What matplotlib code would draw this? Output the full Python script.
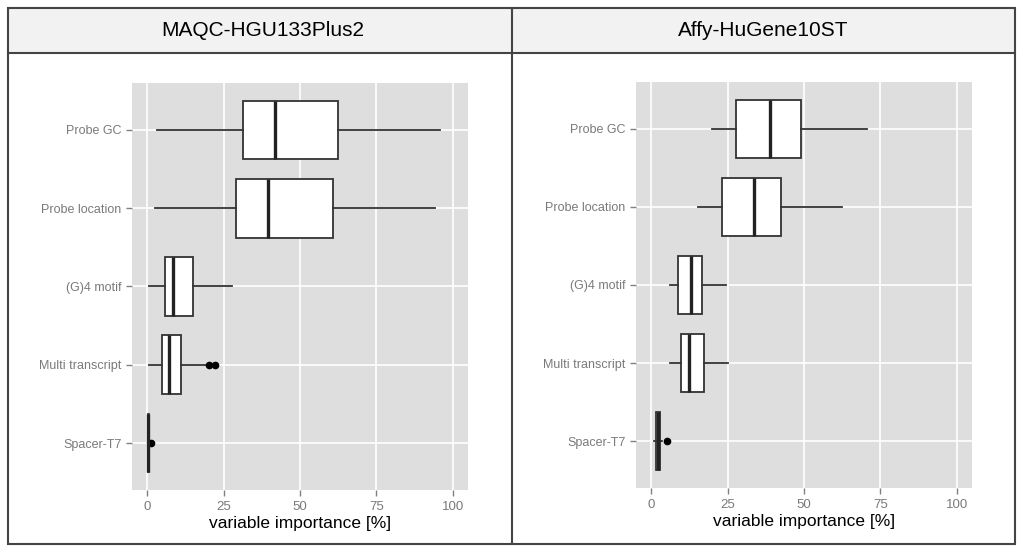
import matplotlib
matplotlib.use("Agg")
import matplotlib.pyplot as plt
from matplotlib.patches import Rectangle
from matplotlib.lines import Line2D

plt.rcParams["font.family"] = ["Liberation Sans", "DejaVu Sans"]

categories = ["Probe GC", "Probe location", "(G)4 motif", "Multi transcript", "Spacer-T7"]
panel_titles = ["MAQC-HGU133Plus2", "Affy-HuGene10ST"]

# box statistics per panel: whisker low, Q1, median, Q3, whisker high
maqc_whislo = [3.3, 2.4, 0.5, 0.5, 0.1]
maqc_q1 = [31.4, 28.9, 5.7, 4.7, 0.2]
maqc_med = [41.8, 39.5, 8.4, 7.0, 0.35]
maqc_q3 = [62.3, 60.9, 15.0, 11.0, 0.5]
maqc_whishi = [95.7, 94.1, 27.9, 19.9, 0.8]
maqc_fliers = [[], [], [], [20.3, 22.1], [1.3]]

affy_whislo = [19.8, 15.4, 6.2, 6.0, 1.0]
affy_q1 = [27.7, 23.2, 8.9, 9.6, 1.5]
affy_med = [39.0, 33.5, 12.9, 12.3, 2.2]
affy_q3 = [48.9, 42.5, 16.7, 17.1, 2.9]
affy_whishi = [70.5, 62.5, 24.5, 25.0, 3.5]
affy_fliers = [[], [], [], [], [5.1]]

x_ticks = [0, 25, 50, 75, 100]

W, H = 1024, 552
fig = plt.figure(figsize=(W / 100, H / 100), dpi=100)


def px_rect(x0, y0, x1, y1):
    return [x0 / W, 1 - y1 / H, (x1 - x0) / W, (y1 - y0) / H]


def make_stats(whislo, q1, med, q3, whishi, fliers):
    stats = []
    for i in range(len(categories)):
        stats.append({
            "whislo": whislo[i], "q1": q1[i], "med": med[i],
            "q3": q3[i], "whishi": whishi[i], "fliers": fliers[i],
        })
    return stats


def draw_panel(rect, stats):
    ax = fig.add_axes(rect)
    ax.set_facecolor("#dedede")
    ax.set_xlim(-5, 105)
    ax.set_ylim(0.4, 5.6)
    positions = list(range(len(categories), 0, -1))
    line = dict(color="#333333", linewidth=1.3)
    ax.bxp(
        stats, positions=positions, orientation="horizontal", widths=0.75,
        patch_artist=True, showcaps=False,
        boxprops=dict(facecolor="white", edgecolor="#333333", linewidth=1.3),
        medianprops=dict(color="#222222", linewidth=2.4),
        whiskerprops=line,
        flierprops=dict(marker="o", markerfacecolor="black", markeredgecolor="black",
                        markersize=4.5),
        zorder=3,
    )
    ax.set_yticks(positions)
    ax.set_yticklabels(categories)
    ax.set_xticks(x_ticks)
    ax.set_xticklabels([str(t) for t in x_ticks])
    ax.grid(True, color="white", linewidth=1.2, zorder=0)
    ax.set_axisbelow(True)
    for spine in ax.spines.values():
        spine.set_visible(False)
    ax.tick_params(colors="#808080", labelcolor="#7a7a7a", labelsize=9,
                   length=4, width=1)
    ax.tick_params(axis="x", labelsize=9.5, pad=4)
    ax.set_xlabel("variable importance [%]", fontsize=12.5, color="black", labelpad=2)
    return ax


draw_panel(px_rect(132, 83, 468, 490),
           make_stats(maqc_whislo, maqc_q1, maqc_med, maqc_q3, maqc_whishi, maqc_fliers))
draw_panel(px_rect(636, 82, 972, 488),
           make_stats(affy_whislo, affy_q1, affy_med, affy_q3, affy_whishi, affy_fliers))

# table-like frame around the two panels
frame_color = "#444444"
fig.patches.append(Rectangle((8 / W, 1 - 53 / H), (1015 - 8) / W, 45 / H,
                             transform=fig.transFigure, facecolor="#f2f2f2",
                             edgecolor="none", zorder=0))
fig.patches.append(Rectangle((8 / W, 1 - 544 / H), (1015 - 8) / W, (544 - 8) / H,
                             transform=fig.transFigure, facecolor="none",
                             edgecolor=frame_color, linewidth=1.5, zorder=5))
fig.lines.append(Line2D([8 / W, 1015 / W], [1 - 53 / H, 1 - 53 / H],
                        transform=fig.transFigure, color=frame_color, linewidth=1.5))
fig.lines.append(Line2D([512 / W, 512 / W], [1 - 8 / H, 1 - 544 / H],
                        transform=fig.transFigure, color=frame_color, linewidth=1.5))

fig.text(263 / W, 1 - 31 / H, panel_titles[0], ha="center", va="center", fontsize=15)
fig.text(763 / W, 1 - 31 / H, panel_titles[1], ha="center", va="center", fontsize=15)

fig.savefig("out.png", dpi=100)
